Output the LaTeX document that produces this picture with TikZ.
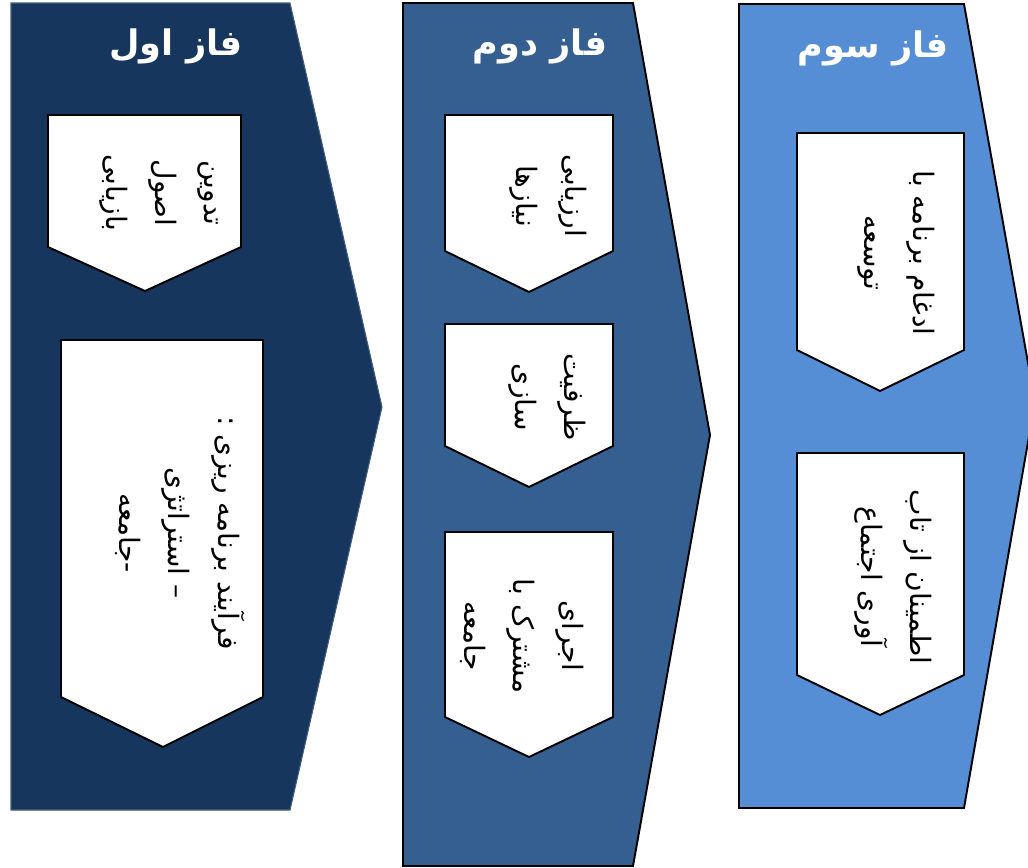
\documentclass[tikz,border=0pt]{standalone}
\usepackage{fontspec}
\newfontfamily\farsifont[Script=Arabic]{DejaVu Sans}
\TeXXeTstate=1
\newcommand{\fatext}[1]{\beginR#1\endR}
\definecolor{phaseone}{RGB}{23,54,93}
\definecolor{phasetwo}{RGB}{54,95,145}
\definecolor{phasethree}{RGB}{85,142,213}

\begin{document}
\begin{tikzpicture}[
  x=0.02cm, y=-0.02cm,
  phase/.style = {draw=black, line width=1.1pt, line join=miter},
  card/.style = {fill=white, draw=black, line width=1.1pt},
  phasetitle/.style = {text=white, font=\farsifont\bfseries\fontsize{20}{24}\selectfont},
  cardtext/.style = {rotate=-90, align=center, font=\farsifont\fontsize{16}{28}\selectfont}
]
  \useasboundingbox (0,0) rectangle (1028,867);
  \clip (0,0) rectangle (1028,867);

  % Phases
  \filldraw[phase, fill=phaseone, draw=phaseone!80!white, line width=0.6pt]
    (11,3) -- (290,3) -- (382,407) -- (290,810) -- (11,810) -- cycle;
  \filldraw[phase, fill=phasetwo]
    (403,3) -- (633,3) -- (710,435) -- (633,866) -- (403,866) -- cycle;
  \filldraw[phase, fill=phasethree]
    (739,4) -- (964,4) -- (1035,402) -- (964,808) -- (739,808) -- cycle;

  % Titles
  \node[phasetitle] (title1) at (176,46) {\fatext{فاز اول}};
  \node[phasetitle] (title2) at (540,46) {\fatext{فاز دوم}};
  \node[phasetitle] (title3) at (873,48) {\fatext{فاز سوم}};

  % Phase one
  \filldraw[card] (48,115) -- (241,115) -- (241,247) -- (145,291) -- (48,247) -- cycle;
  \filldraw[card] (61,340) -- (263,340) -- (263,697) -- (163,747) -- (61,697) -- cycle;
  \node[cardtext] (rules) at (159,193)
    {\fatext{تدوین}\\ \fatext{اصول}\\ \fatext{بازیابی}};
  \node[cardtext] (planning) at (180,533)
    {\fatext{فرآیند برنامه ریزی :}\\ \fatext{–\ استراتژی}\\ \fatext{-\kern0pt جامعه}};

  % Phase two
  \filldraw[card] (445,115) -- (613,115) -- (613,251) -- (529,292) -- (445,251) -- cycle;
  \filldraw[card] (445,324) -- (613,324) -- (613,446) -- (529,487) -- (445,446) -- cycle;
  \filldraw[card] (445,532) -- (613,532) -- (613,717) -- (529,757) -- (445,717) -- cycle;
  \node[cardtext] (needs) at (548,196)
    {\fatext{ارزیابی}\\ \fatext{نیازها}};
  \node[cardtext] (capacity) at (547,397)
    {\fatext{ظرفیت}\\ \fatext{سازی}};
  \node[cardtext] (joint) at (522,636)
    {\fatext{اجرای}\\ \fatext{مشترک با}\\ \fatext{جامعه}};

  % Phase three
  \filldraw[card] (797,133) -- (964,133) -- (964,350) -- (880,391) -- (797,350) -- cycle;
  \filldraw[card] (797,453) -- (964,453) -- (964,675) -- (880,715) -- (797,675) -- cycle;
  \node[cardtext] (merge) at (896,253)
    {\fatext{ادغام برنامه با}\\ \fatext{توسعه}};
  \node[cardtext] (resilience) at (893,577)
    {\fatext{اطمینان از تاب}\\ \fatext{آوری اجتماع}};

\end{tikzpicture}
\end{document}
